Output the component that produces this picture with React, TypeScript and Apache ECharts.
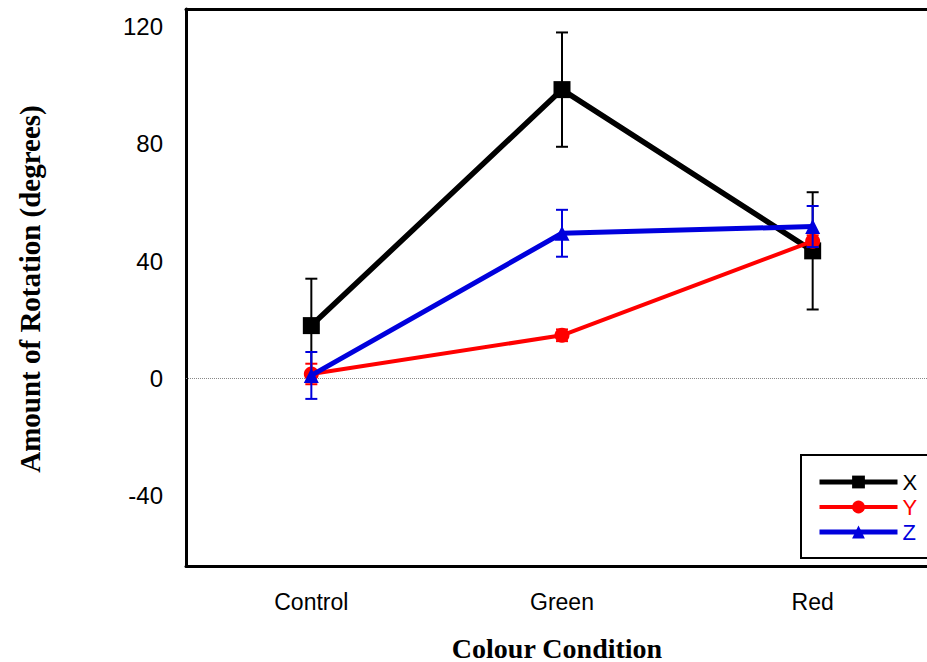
import React, { useEffect, useRef } from "react";
import * as echarts from "echarts";

const categories = ["Control", "Green", "Red"];
const xMean = [18, 98.5, 43.5];
const xErr = [16, 19.5, 20];
const yMean = [1.5, 14.7, 46.8];
const yErr = [3.5, 2, 2];
const zMean = [1, 49.5, 51.8];
const zErr = [8, 8, 7];
const yTickLabels = [-40, 0, 40, 80, 120];

const SANS = "'Liberation Sans', Arial, sans-serif";
const SERIF = "'Liberation Serif', 'Times New Roman', serif";

function errData(mean: number[], err: number[]) {
  return mean.map((m, i) => [i, m - err[i], m + err[i]]);
}

function errSeries(name: string, mean: number[], err: number[], color: string, z: number) {
  return {
    type: "custom",
    name: name + "_err",
    data: errData(mean, err),
    z,
    silent: true,
    renderItem: (params: any, api: any) => {
      const x = api.value(0);
      const lo = api.coord([x, api.value(1)]);
      const hi = api.coord([x, api.value(2)]);
      const w = 6;
      const style = { stroke: color, lineWidth: 2 };
      return {
        type: "group",
        children: [
          { type: "line", shape: { x1: lo[0], y1: lo[1], x2: hi[0], y2: hi[1] }, style },
          { type: "line", shape: { x1: lo[0] - w, y1: lo[1], x2: lo[0] + w, y2: lo[1] }, style },
          { type: "line", shape: { x1: hi[0] - w, y1: hi[1], x2: hi[0] + w, y2: hi[1] }, style },
        ],
      };
    },
  };
}

export default function App() {
  const ref = useRef<HTMLDivElement>(null);
  useEffect(() => {
    document.body.style.margin = "0";
    document.body.style.overflow = "hidden";
    document.documentElement.style.overflow = "hidden";
    if (!ref.current) return;
    const chart = echarts.init(ref.current, undefined, { renderer: "svg" });
    const black = "#000000";
    const red = "#ff0000";
    const blue = "#0000dd";
    chart.setOption({
      animation: false,
      backgroundColor: "#ffffff",
      grid: { left: 186, top: 9, right: 0, bottom: 96, containLabel: false },
      xAxis: [
        {
          type: "category",
          data: categories,
          position: "bottom",
          axisTick: { show: false },
          axisLine: { onZero: false, lineStyle: { color: black, width: 3 } },
          axisLabel: { color: black, fontSize: 23, fontFamily: SANS, margin: 24 },
          splitLine: { show: false },
        },
        {
          type: "category",
          data: categories,
          position: "top",
          axisTick: { show: false },
          axisLine: { onZero: false, lineStyle: { color: black, width: 3 } },
          axisLabel: { show: false },
          splitLine: { show: false },
        },
      ],
      yAxis: {
        type: "value",
        min: -64,
        max: 126,
        interval: 2,
        axisLine: { show: true, onZero: false, lineStyle: { color: black, width: 3 } },
        axisTick: { show: false },
        splitLine: { show: false },
        axisLabel: {
          color: black,
          fontSize: 24,
          fontFamily: SANS,
          margin: 23,
          formatter: (v: number) => (yTickLabels.indexOf(v) >= 0 ? String(v) : ""),
        },
      },
      legend: {
        left: 817,
        top: 471,
        z: 20,
        orient: "vertical",
        itemWidth: 78,
        itemHeight: 16,
        itemGap: 3,
        padding: 0,
        textStyle: { fontSize: 22, fontFamily: SANS },
        data: [
          { name: "X", textStyle: { color: black }, lineStyle: { width: 5 } },
          { name: "Y", textStyle: { color: red }, lineStyle: { width: 4 } },
          { name: "Z", textStyle: { color: blue }, lineStyle: { width: 5 } },
        ],
      },
      graphic: [
        {
          type: "rect",
          z: 1,
          shape: { x: 801, y: 455, width: 200, height: 103 },
          style: { fill: "#ffffff", stroke: black, lineWidth: 2 },
          silent: true,
        },
        {
          type: "text",
          x: 557,
          y: 648,
          style: {
            text: "Colour Condition",
            font: "bold 28px " + SERIF,
            fill: black,
            textAlign: "center",
            textVerticalAlign: "middle",
          },
        },
        {
          type: "text",
          x: 30,
          y: 289,
          rotation: Math.PI / 2,
          style: {
            text: "Amount of Rotation (degrees)",
            font: "bold 29px " + SERIF,
            fill: black,
            textAlign: "center",
            textVerticalAlign: "middle",
          },
        },
      ],
      series: [
        {
          type: "line",
          name: "X",
          data: xMean,
          z: 4,
          lineStyle: { color: black, width: 5.5 },
          itemStyle: { color: black },
          symbol: "rect",
          symbolSize: 17,
          markLine: {
            silent: true,
            symbol: ["none", "none"],
            label: { show: false },
            z: 1,
            lineStyle: { type: "dotted", color: "#888888", width: 1 },
            data: [{ yAxis: 0 }],
          },
        },
        errSeries("X", xMean, xErr, black, 4),
        {
          type: "line",
          name: "Y",
          data: yMean,
          z: 5,
          lineStyle: { color: red, width: 4 },
          itemStyle: { color: red },
          symbol: "circle",
          symbolSize: 15,
        },
        errSeries("Y", yMean, yErr, red, 5),
        {
          type: "line",
          name: "Z",
          data: zMean,
          z: 6,
          lineStyle: { color: blue, width: 5 },
          itemStyle: { color: blue },
          symbol: "triangle",
          symbolSize: 15,
        },
        errSeries("Z", zMean, zErr, blue, 6),
      ],
    });
    return () => chart.dispose();
  }, []);
  return <div ref={ref} style={{ width: 938, height: 662 }} />;
}
